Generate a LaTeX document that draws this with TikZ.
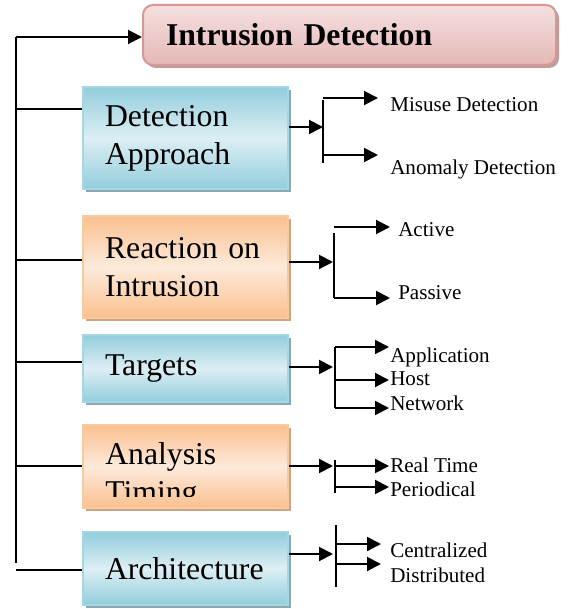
\documentclass[tikz,border=0pt]{standalone}
\usepackage{fontspec}
\setmainfont{Liberation Serif}
\usetikzlibrary{arrows.meta, shadows}
\definecolor{bluedark}{HTML}{92CDDC}
\definecolor{bluelight}{HTML}{DDEFF4}
\definecolor{blueline}{HTML}{A6D6E3}
\definecolor{blueshadow}{HTML}{8BA8B1}
\definecolor{orangedark}{HTML}{FAC08F}
\definecolor{orangelight}{HTML}{FDEADB}
\definecolor{orangeline}{HTML}{FBC9A0}
\definecolor{orangeshadow}{HTML}{C9A684}
\definecolor{pinktop}{HTML}{F4E0DF}
\definecolor{pinkbottom}{HTML}{E5B8B7}
\definecolor{pinkline}{HTML}{D99694}
\definecolor{pinkshadow}{HTML}{B89E9D}
\newcommand{\boxfont}{\fontsize{23.8}{28.5}\selectfont}
\newcommand{\leaffont}{\fontsize{15.8}{18}\selectfont}

\tikzset{
  box/.style={rectangle, line width=1.2pt, inner xsep=16.5pt, text width=120.75pt,
    align=left, font=\boxfont, shading angle=-45},
  bluebox/.style={box, draw=blueline, top color=bluedark, bottom color=bluedark,
    middle color=bluelight,
    drop shadow={shadow xshift=2.25pt, shadow yshift=-2.25pt, fill=blueshadow, opacity=1}},
  orangebox/.style={box, draw=orangeline, top color=orangedark, bottom color=orangedark,
    middle color=orangelight,
    drop shadow={shadow xshift=2.25pt, shadow yshift=-2.25pt, fill=orangeshadow, opacity=1}},
  titlebox/.style={rectangle, rounded corners=7.5pt, line width=1.5pt, draw=pinkline,
    top color=pinktop, bottom color=pinkbottom, minimum height=45pt,
    inner xsep=17.25pt, text width=275.25pt, align=left, font=\boxfont\bfseries,
    drop shadow={shadow xshift=2.25pt, shadow yshift=-2.25pt, fill=pinkshadow, opacity=1}},
  leaf/.style={font=\leaffont, inner sep=0pt, anchor=base west},
  line/.style={draw, line width=1.5pt},
  arr/.style={line, -{Triangle[length=10.5pt, width=10.5pt]}}
}

\begin{document}
\begin{tikzpicture}[x=0.75pt, y=-0.75pt]
    \useasboundingbox (0,0) rectangle (571,609);

    % boxes
    \path
    node[titlebox] (id) at (349.5,35) {Intrusion Detection}
    node[bluebox, minimum height=76.5pt] (da) at (185.5,138) {Detection\\Approach}
    node[orangebox, minimum height=76.5pt] (ri) at (185.5,267) {Reaction on\\Intrusion}
    node[bluebox, minimum height=50.25pt] (tg) at (185.5,368.5) {Targets}
    node[orangebox, minimum height=62.25pt] (at) at (185.5,466.5) {}
    node[bluebox, minimum height=54.75pt] (ar) at (185.5,568.5) {Architecture};

    % text of the timing box, cut off at the bottom
    \begin{scope}
    \clip (83,425) rectangle (288,496);
    \node[font=\boxfont, align=left, inner sep=0pt, anchor=north west]
      (att) at (105,442.5) {Analysis\\Timing};
    \end{scope}

    % leaves
    \path
    node[leaf] (lmd) at (390,112) {Misuse Detection}
    node[leaf] (lad) at (390,175) {Anomaly Detection}
    node[leaf] (lac) at (398,237) {Active}
    node[leaf] (lpa) at (398,299) {Passive}
    node[leaf] (lap) at (390,362) {Application}
    node[leaf] (lho) at (390,385) {Host}
    node[leaf] (lnw) at (390,410) {Network}
    node[leaf] (lrt) at (390,472) {Real Time}
    node[leaf] (lpd) at (390,496) {Periodical}
    node[leaf] (lce) at (390,557) {Centralized}
    node[leaf] (ldi) at (390,582) {Distributed};

    % left trunk
    \coordinate (t0) at (16,37);
    \coordinate (t1) at (16,109);
    \coordinate (t2) at (16,260);
    \coordinate (t3) at (16,362);
    \coordinate (t4) at (16,466);
    \coordinate (t5) at (16,570);
    \coordinate (tb) at (16,563);
    \path[line] (t0) -- (tb);
    \path
    (t0) edge[arr] (t0 -| id.west)
    (t1) edge[line] (t1 -| da.west)
    (t2) edge[line] (t2 -| ri.west)
    (t3) edge[line] (t3 -| tg.west)
    (t4) edge[line] (t4 -| at.west)
    (t5) edge[line] (t5 -| ar.west);

    % forks
    \coordinate (k1) at (323,127);
    \coordinate (k2) at (333,262);
    \coordinate (k3) at (333,367);
    \coordinate (k4) at (333,466);
    \coordinate (k5) at (333,554);
    \coordinate (b1a) at (323,100);  \coordinate (b1b) at (323,163);
    \coordinate (b2a) at (334,233);  \coordinate (b2b) at (334,298);
    \coordinate (b3a) at (335,347);  \coordinate (b3b) at (335,408);
    \coordinate (b4a) at (335,460);  \coordinate (b4b) at (335,493);
    \coordinate (b5a) at (336,525);  \coordinate (b5b) at (336,587);

    % arrow tips
    \coordinate (md) at (378,98);   \coordinate (ad) at (378,155);
    \coordinate (ac) at (390,227);  \coordinate (pa) at (390,298);
    \coordinate (ap) at (389,347);  \coordinate (ho) at (389,380);
    \coordinate (nw) at (389,408);
    \coordinate (rt) at (389,466);  \coordinate (pd) at (389,487);
    \coordinate (ce) at (381,544);  \coordinate (di) at (381,564);

    \path
    (da.east |- k1) edge[arr] (k1)
    (ri.east |- k2) edge[arr] (k2)
    (tg.east |- k3) edge[arr] (k3)
    (at.east |- k4) edge[arr] (k4)
    (ar.east |- k5) edge[arr] (k5)
    (b1a) edge[line] (b1b)
    (b2a) edge[line] (b2b)
    (b3a) edge[line] (b3b)
    (b4a) edge[line] (b4b)
    (b5a) edge[line] (b5b)
    (md -| b1a) edge[arr] (md)
    (ad -| b1a) edge[arr] (ad)
    (ac -| b2a) edge[arr] (ac)
    (pa -| b2a) edge[arr] (pa)
    (ap -| b3a) edge[arr] (ap)
    (ho -| b3a) edge[arr] (ho)
    (nw -| b3a) edge[arr] (nw)
    (rt -| b4a) edge[arr] (rt)
    (pd -| b4a) edge[arr] (pd)
    (ce -| b5a) edge[arr] (ce)
    (di -| b5a) edge[arr] (di);
\end{tikzpicture}
\end{document}
